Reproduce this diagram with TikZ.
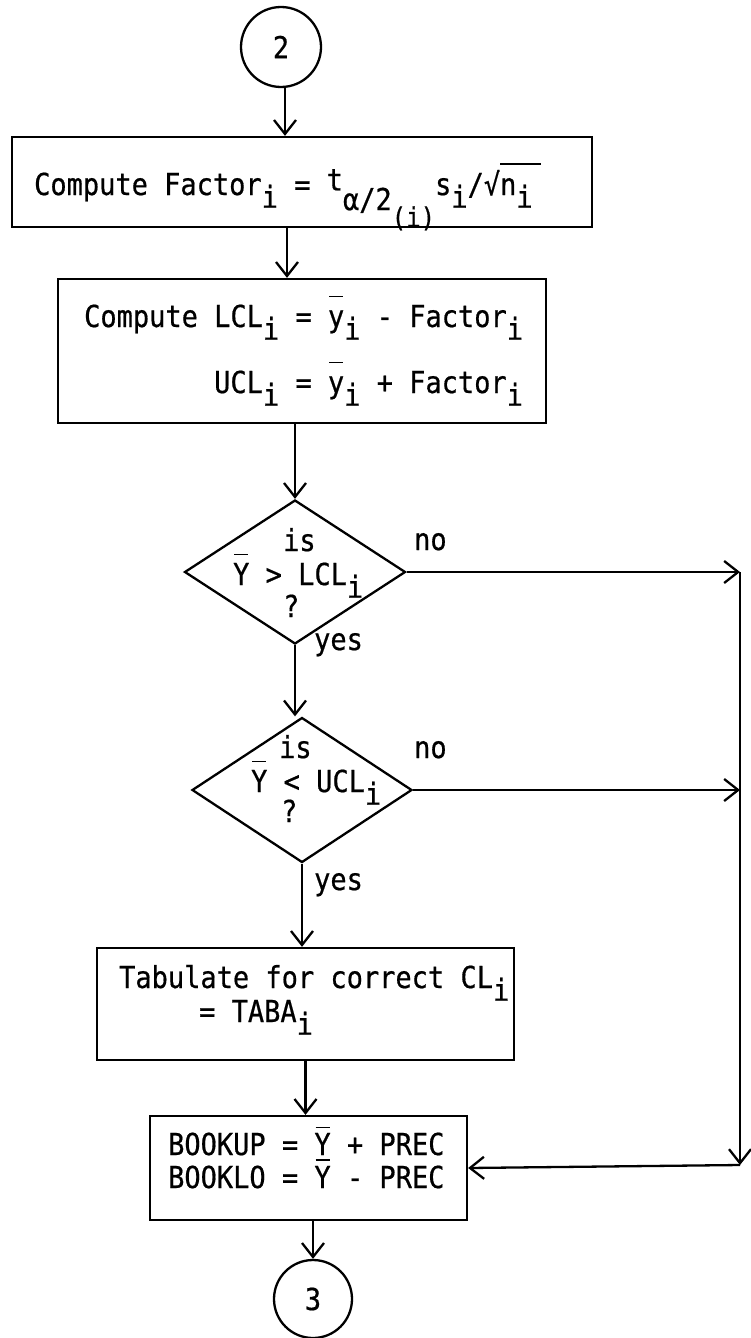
\documentclass[tikz,border=0pt]{standalone}
\usepackage{fontspec}
\setmainfont{DejaVu Sans Mono}[FakeBold=0.6]
\usetikzlibrary{shapes.geometric,arrows.meta}
% typed subscript i: a full-size letter dropped below the line
\newcommand\sbi{\raisebox{-0.42em}{i}}
% typed bar over a single letter
\newcommand\ovl[2][0.98em]{\leavevmode\rlap{\hspace{0.04em}\rule[#1]{0.52em}{1.6pt}}#2}
% slightly tall typewriter lettering
\newcommand\tw[1]{\scalebox{1}[1.12]{#1}}
\begin{document}
\begin{tikzpicture}[x=1pt,y=-1pt,line width=2.3pt,
  every node/.style={font=\fontsize{27}{33}\selectfont,inner sep=0pt},
  txt/.style={anchor=base west},
  boxnode/.style={draw,rectangle},
  decision/.style={draw,diamond},
  connector/.style={draw,circle},
  arr/.style={-{Straight Barb[length=14pt,width=22pt]}}]
\useasboundingbox (0,0) rectangle (751,1338);

% shapes
\node[connector,minimum size=80pt] (c2) at (281,47) {\tw{2}};
\node[boxnode,minimum width=580pt,minimum height=90pt] (b1) at (302,182) {};
\node[boxnode,minimum width=488pt,minimum height=144pt] (b2) at (302,351) {};
\node[decision,minimum width=221pt,minimum height=144pt] (d1) at (295,572) {};
\node[decision,minimum width=220pt,minimum height=145pt] (d2) at (302,790) {};
\node[boxnode,minimum width=417pt,minimum height=112pt] (b3) at (305.5,1004) {};
\node[boxnode,minimum width=317pt,minimum height=104pt] (b4) at (308.5,1168) {};
\node[connector,minimum size=78pt] (c3) at (313,1299) {\tw{3}};

% texts
\node[txt] (t1) at (33,195) {\tw{Compute Factor\sbi{} = \raisebox{0.15em}{t}\raisebox{-0.5em}{α/2}\raisebox{-1.05em}{\fontsize{24}{24}\selectfont(i)}s\sbi/√\rlap{\rule[1.0em]{1.5em}{1.6pt}}n\sbi}};
\node[txt] (t2a) at (83,327) {\tw{Compute LCL\sbi{} = \ovl{y}\sbi{} - Factor\sbi}};
\node[txt] (t2b) at (213,393) {\tw{UCL\sbi{} = \ovl{y}\sbi{} + Factor\sbi}};

\node[txt] (q1a) at (282,551) {\tw{is}};
\node[txt] (q1b) at (232,585) {\tw{\ovl{Y} > LCL\sbi}};
\node[txt] (q1c) at (282,617) {\tw{?}};
\node[txt] (n1) at (413,550) {\tw{no}};
\node[txt] (y1) at (313,650) {\tw{yes}};

\node[txt] (q2a) at (278,758) {\tw{is}};
\node[txt] (q2b) at (250,792) {\tw{\ovl{Y} < UCL\sbi}};
\node[txt] (q2c) at (280,822) {\tw{?}};
\node[txt] (n2) at (413,758) {\tw{no}};
\node[txt] (y2) at (313,890) {\tw{yes}};

\node[txt] (t3a) at (118,988) {\tw{Tabulate for correct CL\sbi}};
\node[txt] (t3b) at (198,1022) {\tw{= TABA\sbi}};

\node[txt] (t4a) at (167,1155) {\tw{BOOKUP = \ovl[0.88em]{Y} + PREC}};
\node[txt] (t4b) at (167,1188) {\tw{BOOKLO = \ovl[0.9em]{Y} - PREC}};

% return rail on the right
\coordinate (rt) at (740,572);
\coordinate (rb) at (740,1165);

% connectors
\draw[arr] ([xshift=4pt]c2.south) -- ([xshift=4pt]c2.south |- b1.north);
\draw[arr] ([xshift=-15pt]b1.south) -- ([xshift=-15pt]b1.south |- b2.north);
\draw[arr] (d1.north |- b2.south) -- (d1.north);
\draw[arr] (d1.south) -- (d1.south |- d2.north);
\draw[arr] (d2.south) -- (d2.south |- b3.north);
\draw[arr] (b3.south) -- (b3.south |- b4.north);
\draw[arr] (c3.north |- b4.south) -- (c3.north);
\draw[arr] (d1.east) -- (rt);
\draw[arr] (d2.east) -- (d2.east -| rt);
\draw[arr] (rt) -- (rb);
\draw[arr] (rb) -- (b4.east);
\end{tikzpicture}
\end{document}
